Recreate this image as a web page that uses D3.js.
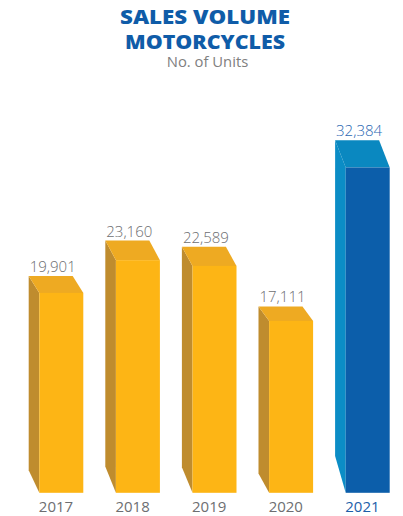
<!DOCTYPE html>
<html>
<head>
<meta charset="utf-8">
<script src="https://cdn.jsdelivr.net/npm/d3@7"></script>
<style>
html,body{margin:0;padding:0;background:#fff;}
svg{display:block;}
</style>
</head>
<body>
<svg id="chart" width="403" height="516"></svg>
<script>
const categories = ["2017", "2018", "2019", "2020", "2021"];
const values = [19901, 23160, 22589, 17111, 32384];
const highlight = [false, false, false, false, true];
const titleLines = ["SALES VOLUME", "MOTORCYCLES"];
const titleWidths = [170, 160];
const subtitle = "No. of Units";

const svg = d3.select("#chart");
const baseY = 492.8;
const topY = 167.5;
const depthX = 10.6;
const topDepthK = 0.084, botDepthK = 0.113;

const x = d3.scaleBand().domain(categories).range([39.3, 389.7]).paddingInner(0.4256).paddingOuter(0);
const y = d3.scaleLinear().domain([0, 32384]).range([baseY, topY]);

const yellow = {front: "#fdb515", top: "#eeaa22", side: "#bf8c2e", label: "#6d6e71", year: "#6d6e71"};
const blue = {front: "#0c5eaa", top: "#0a88c0", side: "#0b8dc6", label: "#2a68b3", year: "#1c5ea9"};

// Title
const title = svg.append("g").attr("text-anchor", "middle");
title.selectAll("text.t").data(titleLines).join("text")
  .attr("class", "t")
  .attr("x", 205)
  .attr("y", (d, i) => 24 + i * 25.3)
  .attr("fill", "#0f5ca8")
  .attr("font-family", "'Open Sans', sans-serif")
  .attr("font-weight", 800)
  .attr("font-size", 19.5)
  .attr("textLength", (d, i) => titleWidths[i])
  .attr("lengthAdjust", "spacingAndGlyphs")
  .text(d => d);
title.append("text")
  .attr("x", 207.5).attr("y", 66.6)
  .attr("fill", "#808080")
  .attr("font-family", "'Open Sans', sans-serif")
  .attr("font-weight", 400)
  .attr("font-size", 14.5)
  .attr("textLength", 81.5)
  .attr("lengthAdjust", "spacingAndGlyphs")
  .text(subtitle);

const data = categories.map((c, i) => ({cat: c, value: values[i], hl: highlight[i]}));

const bars = svg.append("g").selectAll("g.bar").data(data).join("g").attr("class", "bar");

bars.each(function(d) {
  const g = d3.select(this);
  const col = d.hl ? blue : yellow;
  const fx0 = x(d.cat), fx1 = fx0 + x.bandwidth();
  const fy = y(d.value);
  const h = baseY - fy;
  const tdy = h * topDepthK, bdy = h * botDepthK;
  const bx0 = fx0 - depthX, bx1 = fx1 - depthX;
  const by = fy - tdy;
  g.append("path")
    .attr("d", `M${bx0},${by}L${fx0},${fy}L${fx0},${baseY}L${bx0},${baseY - bdy}Z`)
    .attr("fill", col.side);
  g.append("path")
    .attr("d", `M${bx0},${by}L${bx1},${by}L${fx1},${fy}L${fx0},${fy}Z`)
    .attr("fill", col.top);
  g.append("rect")
    .attr("x", fx0).attr("y", fy)
    .attr("width", x.bandwidth()).attr("height", baseY - fy)
    .attr("fill", col.front);
  g.append("text")
    .attr("x", bx0 + 24).attr("y", by - 4)
    .attr("text-anchor", "middle")
    .attr("fill", col.label)
    .attr("font-family", "'Open Sans', sans-serif")
    .attr("font-weight", 300)
    .attr("font-size", 15)
    .text(d3.format(",")(d.value));
  g.append("text")
    .attr("x", (bx0 + fx1) / 2).attr("y", 512)
    .attr("text-anchor", "middle")
    .attr("fill", col.year)
    .attr("font-family", "'Open Sans', sans-serif")
    .attr("font-weight", 400)
    .attr("font-size", 15)
    .text(d.cat);
});
</script>
</body>
</html>
